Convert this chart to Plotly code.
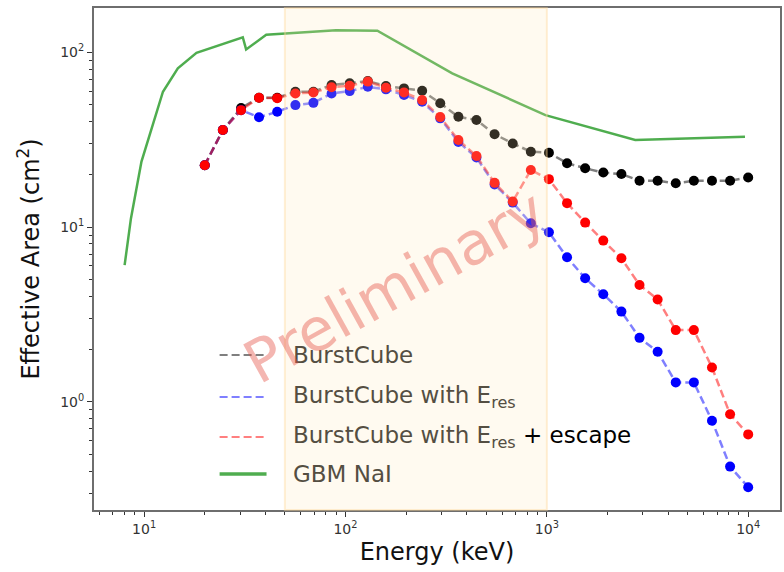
import plotly.graph_objects as go

# ---------------- data ----------------
energy_kev = [20.0, 24.6, 30.3, 37.2, 45.8, 56.4, 69.3, 85.3, 104.9, 129.1, 158.8,
              195.3, 240.3, 295.6, 363.7, 447.2, 550.2, 676.9, 832.7, 1024, 1260,
              1550, 1907, 2346, 2886, 3550, 4368, 5373, 6610, 8132, 10000]

burstcube = [22.6, 35.9, 48.0, 55.0, 55.0, 59.5, 59.5, 65.0, 66.6, 68.5, 64.1,
             62.2, 60.3, 51.1, 42.8, 41.0, 34.0, 30.1, 27.0, 26.6, 23.2,
             21.7, 20.5, 20.1, 18.4, 18.4, 17.8, 18.4, 18.4, 18.4, 19.2]

burstcube_eres = [22.6, 35.9, 46.7, 42.5, 45.7, 49.9, 51.4, 58.2, 60.0, 63.5, 61.4,
                  57.0, 52.1, 41.9, 30.7, 25.0, 17.5, 13.8, 10.5, 9.33, 6.71,
                  5.09, 4.12, 3.28, 2.32, 1.93, 1.29, 1.29, 0.778, 0.425, 0.324]

burstcube_eres_escape = [22.6, 35.9, 46.7, 55.0, 54.7, 58.2, 58.9, 63.1, 64.4, 68.0, 62.7,
                         59.0, 53.3, 42.6, 31.5, 25.5, 17.9, 14.0, 21.2, 18.8, 13.7,
                         10.6, 8.36, 6.62, 4.66, 3.85, 2.57, 2.57, 1.57, 0.847, 0.650]

gbm_energy = [8.0, 8.6, 9.7, 12.4, 14.7, 18.2, 30.9, 32.1, 40.4, 89.8, 144,
              339, 984, 2748, 9640]
gbm_area = [6.05, 11.2, 23.7, 59.5, 81, 99.5, 122, 104, 126, 134, 133,
            75.9, 43.7, 31.5, 32.9]

band_kev = [50, 1000]

x_tick_vals = [10, 100, 1000, 10000]
x_tick_text = ["10<sup>1</sup>", "10<sup>2</sup>", "10<sup>3</sup>", "10<sup>4</sup>"]
y_tick_vals = [1, 10, 100]
y_tick_text = ["10<sup>0</sup>", "10<sup>1</sup>", "10<sup>2</sup>"]

legend_labels = [
    "BurstCube",
    "BurstCube with E<sub>res</sub>",
    "BurstCube with E<sub>res</sub> <span style='color:#000000'>+ escape</span>",
    "GBM NaI",
]

# ---------------- styles ----------------
FONT = "DejaVu Sans"
series = [
    (burstcube, "rgba(0,0,0,0.5)", "#000000"),
    (burstcube_eres, "rgba(0,0,255,0.5)", "#0000ff"),
    (burstcube_eres_escape, "rgba(255,0,0,0.5)", "#ff0000"),
]
GREEN = "rgba(20,145,20,0.75)"

fig = go.Figure()

fig.add_trace(go.Scatter(x=gbm_energy, y=gbm_area, mode="lines",
                         line=dict(color=GREEN, width=2.5), hoverinfo="skip"))

for vals, lc, mc in series:
    fig.add_trace(go.Scatter(x=energy_kev, y=vals, mode="lines",
                             line=dict(color=lc, width=2.5, dash="8px,4px")))
    fig.add_trace(go.Scatter(x=energy_kev, y=vals, mode="markers",
                             marker=dict(color=mc, size=10, line=dict(width=0))))

# minor ticks
minor_x = [m * 10 ** e for e in range(0, 4) for m in range(2, 10)]
minor_y = [m * 10 ** e for e in range(-1, 2) for m in range(2, 10)]

axis_common = dict(showline=True, linecolor="#6e6e6e", linewidth=2, mirror=True,
                   ticks="outside", ticklen=5, tickwidth=1, tickcolor="#333333",
                   showgrid=False, zeroline=False,
                   tickfont=dict(family=FONT, size=14, color="#333333"))

fig.update_xaxes(type="log", range=[0.751, 4.158], tickvals=x_tick_vals, ticktext=x_tick_text,
                 minor=dict(tickvals=minor_x, ticks="outside", ticklen=3, tickcolor="#333333", showgrid=False),
                 title=dict(text="Energy (keV)", font=dict(family=FONT, size=24, color="#111111"), standoff=7),
                 **axis_common)
fig.update_yaxes(type="log", range=[-0.62, 2.254], tickvals=y_tick_vals, ticktext=y_tick_text,
                 minor=dict(tickvals=minor_y, ticks="outside", ticklen=3, tickcolor="#333333", showgrid=False),
                 title=dict(text="Effective Area (cm<sup>2</sup>)", font=dict(family=FONT, size=24, color="#111111"), standoff=14),
                 **axis_common)

# shaded band, drawn above the data like matplotlib's axvspan
fig.add_shape(type="rect", xref="x", yref="paper", x0=band_kev[0], x1=band_kev[1], y0=0, y1=1,
              fillcolor="rgb(255,232,180)", opacity=0.2, line=dict(width=0), layer="above")
fig.add_shape(type="rect", xref="x", yref="paper", x0=band_kev[0], x1=band_kev[1], y0=0, y1=1,
              fillcolor="rgba(0,0,0,0)", line=dict(color="rgba(255,215,150,0.4)", width=2), layer="above")

# manual legend
leg_y = [0.3088, 0.2251, 0.1454, 0.0717]
leg_styles = [
    dict(color="rgba(0,0,0,0.5)", width=2.2, dash="8px,4px"),
    dict(color="rgba(0,0,255,0.5)", width=2.2, dash="8px,4px"),
    dict(color="rgba(255,0,0,0.5)", width=2.2, dash="8px,4px"),
    dict(color=GREEN, width=3.5),
]
for yy, lab, st in zip(leg_y, legend_labels, leg_styles):
    fig.add_shape(type="line", xref="paper", yref="paper", x0=0.1831, x1=0.2515, y0=yy, y1=yy,
                  line=st, layer="above")
    fig.add_annotation(x=0.2878, y=yy, xref="paper", yref="paper", xanchor="left", yanchor="middle",
                       text=lab, showarrow=False,
                       font=dict(family=FONT, size=23, color="rgb(84,78,66)"))

# watermark
fig.add_annotation(x=0.438, y=0.446, xref="paper", yref="paper", text="Preliminary",
                   showarrow=False, textangle=-29,
                   font=dict(family=FONT, size=59, color="rgba(228,80,70,0.42)"))

fig.update_layout(width=784, height=572, margin=dict(l=94, r=2, t=8, b=62),
                  plot_bgcolor="white", paper_bgcolor="white", showlegend=False,
                  font=dict(family=FONT))

fig.write_html("out.html")
